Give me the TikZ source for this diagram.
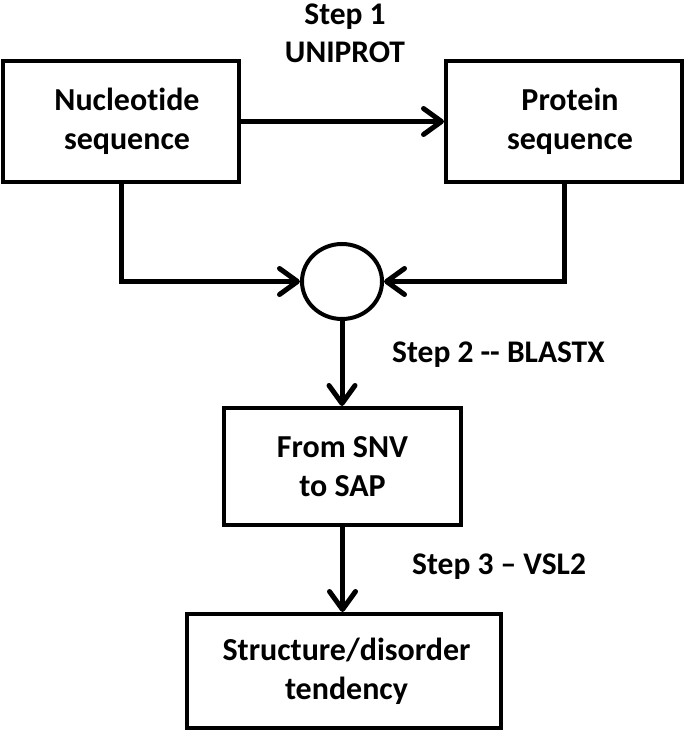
\documentclass[tikz,border=0pt]{standalone}
\usepackage{fontspec}
\setmainfont{Carlito}[Ligatures={TeX,NoCommon}]
\usetikzlibrary{arrows.meta,shapes.geometric}
\begin{document}
\begin{tikzpicture}[x=1pt,y=-1pt,
  txt/.style={font=\fontsize{32}{39}\selectfont\bfseries,align=center,inner sep=0pt},
  box/.style={txt,draw,line width=4pt},
  arr/.style={line width=5pt,-{Straight Barb[length=18pt,width=26pt,line width=5pt,round]}},
  lbl/.style={font=\fontsize{31.5}{38}\selectfont\bfseries,inner sep=0pt}
]
\useasboundingbox (0,0) rectangle (685,733);
\node[box,minimum width=236pt,minimum height=121pt] (b1) at (121,121.5) {\hspace*{12pt}Nucleotide\\\hspace*{12pt}sequence};
\node[box,minimum width=236pt,minimum height=121pt] (b2) at (564,121.5) {\hspace*{12pt}Protein\\\hspace*{12pt}sequence};
\node[draw,ellipse,line width=4pt,inner sep=0pt,minimum width=80pt,minimum height=75pt] (c) at (342,281.5) {};
\node[box,minimum width=237pt,minimum height=117pt] (b3) at (342.5,466.5) {From SNV\\to SAP};
\node[box,minimum width=314pt,minimum height=114pt] (b4) at (344,671) {\hspace*{5pt}Structure/disorder\\\hspace*{5pt}tendency};
\node[lbl,align=center,font=\fontsize{31.5}{38}\selectfont\bfseries] (l1) at (345,33) {Step 1\\UNIPROT};
\node[lbl,anchor=base west] (l2) at (392,362) {Step 2 -{}- BLASTX};
\node[lbl,anchor=base west] (l3) at (412,574) {Step 3 – VSL2};
\draw[arr] (b1.east) -- (b2.west);
\draw[arr] (b1.south) |- (c.west);
\draw[arr] (b2.south) |- (c.east);
\draw[arr] (c.south) -- (c.south |- b3.north);
\draw[arr] (b3.south) -- (b3.south |- b4.north);
\end{tikzpicture}
\end{document}
